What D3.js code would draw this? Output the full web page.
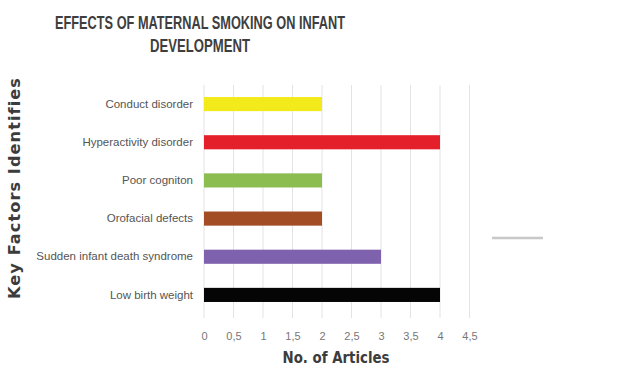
<!DOCTYPE html>
<html>
<head>
<meta charset="utf-8">
<script src="https://cdn.jsdelivr.net/npm/d3@7"></script>
<style>
  body { margin: 0; background: #fff; }
  svg { display: block; }
</style>
</head>
<body>
<script>
// categories top to bottom, values = number of articles
var categories = ["Conduct disorder", "Hyperactivity disorder", "Poor cogniton",
                  "Orofacial defects", "Sudden infant death syndrome", "Low birth weight"];
var articles = [2, 4, 2, 2, 3, 4];
var barColors = ["#f3ea1c", "#e4202a", "#8cbd50", "#a24d24", "#7f62ad", "#050505"];
var xTicks = [0, 0.5, 1, 1.5, 2, 2.5, 3, 3.5, 4, 4.5];

var width = 636, height = 374;
var margin = { top: 85, right: 166, bottom: 60, left: 204 };

var svg = d3.select("body").append("svg")
    .attr("width", width)
    .attr("height", height);

var x = d3.scaleLinear().domain([0, 4.5]).range([margin.left, 469.5]);
var y = d3.scaleBand().domain(categories).range([margin.top, 314]).paddingInner(0.63).paddingOuter(0.315);

// gridlines
svg.append("g")
    .selectAll("line")
    .data(xTicks)
    .join("line")
    .attr("x1", function (d) { return x(d); })
    .attr("x2", function (d) { return x(d); })
    .attr("y1", margin.top)
    .attr("y2", 318)
    .attr("stroke", "#e3e3e3")
    .attr("stroke-width", 1);

// bars
svg.append("g")
    .selectAll("rect")
    .data(articles)
    .join("rect")
    .attr("x", x(0))
    .attr("y", function (d, i) { return y(categories[i]); })
    .attr("width", function (d) { return x(d) - x(0); })
    .attr("height", y.bandwidth())
    .attr("fill", function (d, i) { return barColors[i]; });

// x axis labels
var axisX = d3.axisBottom(x)
    .tickValues(xTicks)
    .tickSize(0)
    .tickFormat(function (d) { return String(d).replace(".", ","); });
var gx = svg.append("g")
    .attr("transform", "translate(0,329)")
    .call(axisX);
gx.select(".domain").remove();
gx.selectAll("text")
    .attr("font-family", "'Liberation Sans Narrow', 'Liberation Sans', sans-serif")
    .attr("font-size", 11)
    .attr("fill", "#777");

// y axis labels
var axisY = d3.axisLeft(y).tickSize(0).tickPadding(11);
var gy = svg.append("g")
    .attr("transform", "translate(" + x(0) + ",0)")
    .call(axisY);
gy.select(".domain").remove();
gy.selectAll("text")
    .attr("font-family", "'Liberation Sans Narrow', 'Liberation Sans', sans-serif")
    .attr("font-size", 11.5)
    .attr("fill", "#555");

// title
var title = svg.append("g")
    .attr("font-family", "'Liberation Sans Narrow', 'Liberation Sans', sans-serif")
    .attr("font-weight", "bold")
    .attr("font-size", 18)
    .attr("fill", "#3e3e3e")
    .attr("text-anchor", "middle");
title.append("text").attr("x", 200).attr("y", 29)
    .attr("textLength", 290).attr("lengthAdjust", "spacingAndGlyphs")
    .text("EFFECTS OF MATERNAL SMOKING ON INFANT");
title.append("text").attr("x", 200).attr("y", 52)
    .attr("textLength", 100).attr("lengthAdjust", "spacingAndGlyphs")
    .text("DEVELOPMENT");

// axis titles
svg.append("text")
    .attr("x", 336).attr("y", 363)
    .attr("text-anchor", "middle")
    .attr("font-family", "'DejaVu Sans', sans-serif")
    .attr("font-weight", "bold")
    .attr("font-size", 15)
    .attr("textLength", 107)
    .attr("lengthAdjust", "spacingAndGlyphs")
    .attr("fill", "#3c3c3c")
    .text("No. of Articles");

svg.append("text")
    .attr("transform", "translate(20,188) rotate(-90)")
    .attr("text-anchor", "middle")
    .attr("font-family", "'DejaVu Sans', sans-serif")
    .attr("font-weight", "bold")
    .attr("font-size", 15)
    .attr("letter-spacing", 1)
    .attr("textLength", 222)
    .attr("lengthAdjust", "spacingAndGlyphs")
    .attr("fill", "#3c3c3c")
    .text("Key Factors Identifies");

// stray legend line
svg.append("line")
    .attr("x1", 492).attr("x2", 543)
    .attr("y1", 238).attr("y2", 238)
    .attr("stroke", "#c8c8c8")
    .attr("stroke-width", 2.5);
</script>
</body>
</html>
